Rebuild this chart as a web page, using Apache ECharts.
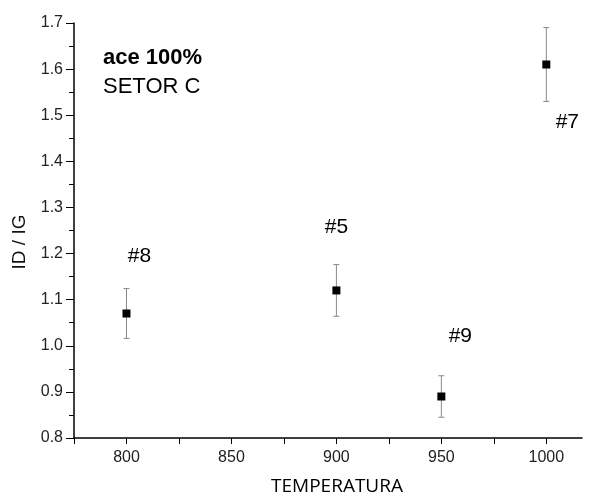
<!DOCTYPE html>
<html>
<head>
<meta charset="utf-8">
<script src="https://cdn.jsdelivr.net/npm/echarts@6/dist/echarts.min.js"></script>
<style>html,body{margin:0;padding:0;background:#fff}#c{width:591px;height:500px}</style>
</head>
<body>
<div id="c"></div>
<script>
var temperatures = [800, 900, 950, 1000];
var ratios = [1.07, 1.12, 0.89, 1.61];
var errors = [0.054, 0.056, 0.045, 0.08];
var sampleLabels = ['#8', '#5', '#9', '#7'];
var xLabelValues = [800, 850, 900, 950, 1000];
var xTickValues = [775, 800, 825, 850, 875, 900, 925, 950, 975, 1000];
var labelOffsets = [[13, -57], [0, -63], [19, -60], [21, 58]];

var chart = echarts.init(document.getElementById('c'), null, {renderer: 'canvas'});
var font = '"Liberation Sans", Arial, sans-serif';

var pointData = temperatures.map(function (t, i) {
  return {
    value: [t, ratios[i]],
    label: {
      show: true,
      formatter: sampleLabels[i],
      position: 'inside',
      offset: labelOffsets[i],
      fontSize: 21,
      fontFamily: font,
      color: '#000'
    }
  };
});
var errData = temperatures.map(function (t, i) {
  return [t, ratios[i] - errors[i], ratios[i] + errors[i]];
});

chart.setOption({
  animation: false,
  backgroundColor: '#fff',
  grid: {left: 74, right: 9, top: 23, bottom: 62, containLabel: false},
  xAxis: {
    type: 'value',
    min: 775, max: 1017,
    splitLine: {show: false},
    axisLine: {lineStyle: {color: '#000', width: 1.5}},
    axisTick: {show: true, length: 6, inside: false, customValues: xTickValues, lineStyle: {color: '#000', width: 1}},
    axisLabel: {customValues: xLabelValues, margin: 12, fontSize: 16, fontFamily: font, color: '#222',
      formatter: function (v) { return String(v); }}
  },
  yAxis: {
    type: 'value',
    min: 0.8, max: 1.7, interval: 0.1,
    splitLine: {show: false},
    axisLine: {show: true, lineStyle: {color: '#000', width: 1.5}},
    axisTick: {show: true, length: 8, lineStyle: {color: '#000', width: 1}},
    minorTick: {show: true, splitNumber: 2, length: 5, lineStyle: {color: '#000', width: 1}},
    axisLabel: {margin: 11, fontSize: 16, fontFamily: font, color: '#222',
      formatter: function (v) { return v.toFixed(1); }}
  },
  graphic: [
    {type: 'text', left: 103, top: 47, style: {text: 'ace 100%', font: 'bold 22px ' + font, fill: '#000'}},
    {type: 'text', left: 103, top: 76, style: {text: 'SETOR C', font: '22px ' + font, fill: '#000'}},
    {type: 'text', x: 20, y: 242, rotation: Math.PI / 2, style: {text: 'ID / IG', font: '19px ' + font, fill: '#111', align: 'center', verticalAlign: 'middle'}},
    {type: 'text', x: 337, y: 487, style: {text: 'TEMPERATURA', font: '19px "Open Sans", sans-serif', fill: '#000', align: 'center', verticalAlign: 'middle'}}
  ],
  series: [
    {
      type: 'custom',
      data: errData,
      z: 1,
      renderItem: function (params, api) {
        var x = api.value(0);
        var lo = api.coord([x, api.value(1)]);
        var hi = api.coord([x, api.value(2)]);
        var cw = 3;
        var st = {stroke: '#888', lineWidth: 1};
        return {
          type: 'group',
          children: [
            {type: 'line', shape: {x1: lo[0], y1: lo[1], x2: hi[0], y2: hi[1]}, style: st},
            {type: 'line', shape: {x1: lo[0] - cw, y1: lo[1], x2: lo[0] + cw, y2: lo[1]}, style: st},
            {type: 'line', shape: {x1: hi[0] - cw, y1: hi[1], x2: hi[0] + cw, y2: hi[1]}, style: st}
          ]
        };
      }
    },
    {
      type: 'scatter',
      data: pointData,
      symbol: 'rect',
      symbolSize: 8,
      z: 3,
      itemStyle: {color: '#000', opacity: 1}
    }
  ]
});
</script>
</body>
</html>
